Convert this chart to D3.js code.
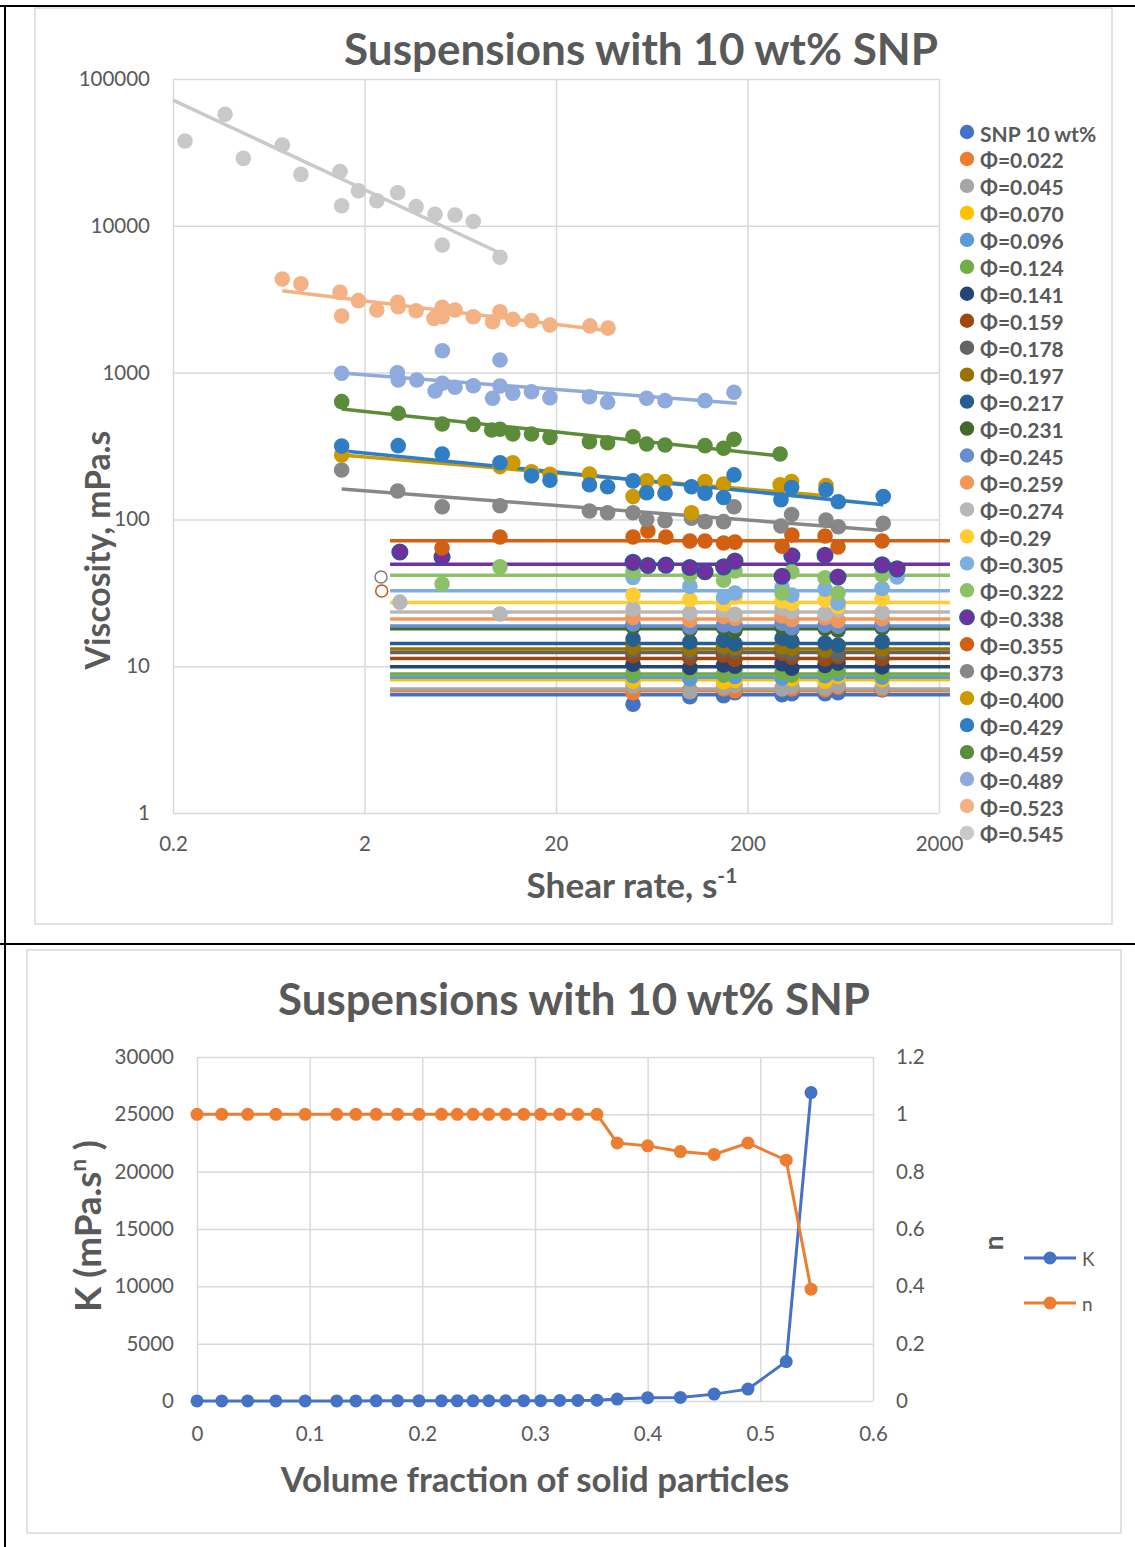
<!DOCTYPE html>
<html><head><meta charset="utf-8">
<script src="https://cdn.jsdelivr.net/npm/d3@7"></script>
<style>
body{margin:0;background:#fff}
svg{display:block}
text{font-family:Lato,"Open Sans",sans-serif;fill:#595959}
</style>
</head><body>
<svg id="c" width="1135" height="1547"></svg>
<script>
// ---------------- DATA ----------------
const seriesLabels = ["SNP 10 wt%","Φ=0.022","Φ=0.045","Φ=0.070","Φ=0.096","Φ=0.124","Φ=0.141","Φ=0.159","Φ=0.178","Φ=0.197","Φ=0.217","Φ=0.231","Φ=0.245","Φ=0.259","Φ=0.274","Φ=0.29","Φ=0.305","Φ=0.322","Φ=0.338","Φ=0.355","Φ=0.373","Φ=0.400","Φ=0.429","Φ=0.459","Φ=0.489","Φ=0.523","Φ=0.545"];
const phi = [0,0.022,0.045,0.070,0.096,0.124,0.141,0.159,0.178,0.197,0.217,0.231,0.245,0.259,0.274,0.29,0.305,0.322,0.338,0.355,0.373,0.400,0.429,0.459,0.489,0.523,0.545];
// Power-law fit parameters (viscosity = K * shear^(n-1))
const K = [6.4,6.8,7.0,8.1,8.4,8.85,9.9,11.3,12.4,13.1,14.3,18.0,18.8,21.0,23.4,27.2,32.7,41.6,49.4,71.6,168,288,310,600,1036,3440,26900];
const nIdx = [1,1,1,1,1,1,1,1,1,1,1,1,1,1,1,1,1,1,1,1,0.90,0.89,0.87,0.86,0.90,0.84,0.39];
// shear range of each fitted line
const fitMin = [2.72,2.72,2.72,2.72,2.72,2.72,2.72,2.72,2.72,2.72,2.72,2.72,2.72,2.72,2.72,2.72,2.72,2.72,2.72,2.72,1.52,1.52,1.52,1.52,1.51,0.744,0.2];
const fitMax = [2282,2282,2282,2282,2282,2282,2282,2282,2282,2282,2282,2282,2282,2282,2282,2282,2282,2282,2282,2282,1023,518,1023,296,176,39.2,10.2];

// measured points: shear rate (1/s) and viscosity (mPa.s)
const shearCols = [50.5,100,150,172,303,341,508,594,1009];
const viscSNP = [5.5,6.2,6.3,6.6,6.4,6.5,6.5,6.6,6.9];
const visc022 = [6.6,6.9,7.0,6.8,7.1,7.0,6.9,7.2,7.0];
const visc045 = [7.3,6.7,7.2,7.4,7.0,7.3,7.1,7.4,7.2];
const visc070 = [7.9,8.3,7.8,8.0,8.4,8.2,7.9,8.5,8.1];
const visc096 = [8.6,8.2,8.7,8.5,8.3,8.8,8.6,8.9,8.4];
const visc124 = [9.0,9.2,8.8,9.3,9.1,8.7,9.0,9.4,8.9];
const visc141 = [10.3,9.8,10.2,10.0,10.4,9.7,10.1,10.5,9.9];
const visc159 = [11.8,11.4,11.9,11.1,12.2,11.5,11.2,11.6,11.3];
const visc178 = [12.7,12.3,12.9,12.6,12.8,12.2,12.5,12.1,12.4];
const visc197 = [13.4,13.0,13.6,13.3,13.5,13.2,12.9,13.8,13.1];
const visc217 = [15.3,14.6,15.0,14.2,15.5,14.8,14.4,13.9,14.7];
const visc231 = [18.6,17.8,18.2,17.5,18.4,17.9,18.1,17.6,18.3];
const visc245 = [19.4,18.5,19.1,18.9,19.6,18.3,19.0,18.7,19.2];
const visc259 = [21.5,20.6,21.8,21.2,22.0,20.8,21.4,20.5,21.1];
const shear274 = [3.06,10.2,50.5,100,150,172,303,341,508,594,1009];
const visc274 = [27.3,22.7,24.5,23.0,24.0,22.6,24.8,23.5,22.8,24.2,23.2];
const visc290 = [30.5,28.5,26.5,29.5,27.8,26.8,28.2,25.5,28.8];
const shear305 = [50.5,100,150,172,303,341,508,594,1009,1209];
const visc305 = [40.2,35.0,29.5,31.5,34.5,30.5,33.5,27.0,33.8,40.5];
const shear322 = [5.08,10.2,50.5,100,150,172,303,341,508,594,1009];
const visc322 = [36.3,47.5,44.0,42.0,38.5,44.5,31.5,44.0,40.0,31.5,42.0];
const shear338 = [3.06,5.08,50.5,60.4,75,100,120,150,172,303,341,508,594,1009,1209];
const visc338 = [60,55.5,51,48.5,48.8,47,44,47.5,52,41,56.5,57,40.5,49,46];
const shear355 = [5.08,10.2,50.5,60.4,75,100,120,150,172,303,341,508,594,1009];
const visc355 = [63.9,75.9,75.9,83.4,75.9,71.3,71.3,69.1,70,65.6,78.3,77.1,64.8,71.3];
const shear373 = [1.52,2.98,5.09,10.2,29.9,37.2,50.5,59.5,74.2,102,120,150,170,299,340,514,596,1023];
const visc373 = [217,156,122,124,114,111,111,100,98,102,96.5,96.5,122,90.2,108,99,89.2,94];
const shear400 = [1.52,10.2,11.9,14.9,18.6,29.9,50.5,59.5,74.2,102,120,150,296,340,514];
const visc400 = [275,229,243,211,203,204,143,183,181,111,181,174,172,181,170];
const shear429 = [1.52,3.0,5.09,10.2,14.9,18.6,29.9,37.2,50.5,59.5,74.2,102,120,150,170,299,340,514,596,1023];
const visc429 = [316,318,279,243,198,185,172,167,183,152,151,167,151,141,201,136,165,159,132,143];
const shear459 = [1.52,3.0,5.09,7.40,9.23,10.2,11.9,14.9,18.6,29.9,37.2,50.5,59.5,74.2,120,150,170,296];
const visc459 = [634,528,447,444,406,411,382,382,362,338,333,366,326,321,318,305,351,279];
const shear489 = [1.52,2.97,3.0,3.75,4.67,5.1,5.1,5.94,7.4,10.2,10.2,9.33,11.9,14.9,18.6,29.9,37.2,59.5,74.2,120,170];
const visc489 = [989,998,891,891,749,846,1410,794,814,1219,810,668,723,741,675,685,628,668,644,644,734];
const shear523 = [0.744,0.931,1.49,1.52,1.86,2.32,2.98,3.0,3.72,4.61,5.09,5.09,5.94,7.40,9.33,10.2,11.9,14.9,18.6,30.1,37.4];
const visc523 = [4340,4030,3520,2430,3090,2670,3010,2810,2640,2340,2790,2400,2670,2400,2220,2600,2310,2260,2110,2080,2010];
const shear545 = [0.231,0.374,0.466,0.745,0.931,1.49,1.52,1.86,2.32,2.98,3.72,4.67,5.94,7.40,5.09,10.2];
const visc545 = [37800,57500,28800,35500,22400,23400,13700,17300,14800,16800,13500,12000,11850,10700,7400,6100];
// stray hollow markers left of the Newtonian lines
const strayShear = [2.44,2.46];
const strayVisc = [40.5,32.5];

const xTicksTop = [0.2,2,20,200,2000];
const yTicksTop = [1,10,100,1000,10000,100000];
const xTicksBot = [0,0.1,0.2,0.3,0.4,0.5,0.6];
const kTicks = [0,5000,10000,15000,20000,25000,30000];
const nTicks = [0,0.2,0.4,0.6,0.8,1,1.2];

// ---------------- STYLE ----------------
const palette = ["#4472C4","#ED7D31","#A5A5A5","#FFC000","#5B9BD5","#70AD47","#264478","#9E480E","#636363","#997300","#255E91","#43682B","#698ED0","#F1975A","#B7B7B7","#FFCD33","#7CAFDD","#8CC168","#7030A0","#D26012","#878787","#CC9A00","#2E7DC5","#5B8C39","#8FAADC","#F4B183","#C9C9C9"];
const GRID = "#d9d9d9", TXT = "#595959";

const seriesShear = [shearCols,shearCols,shearCols,shearCols,shearCols,shearCols,shearCols,shearCols,shearCols,shearCols,shearCols,shearCols,shearCols,shearCols,shear274,shearCols,shear305,shear322,shear338,shear355,shear373,shear400,shear429,shear459,shear489,shear523,shear545];
const seriesVisc = [viscSNP,visc022,visc045,visc070,visc096,visc124,visc141,visc159,visc178,visc197,visc217,visc231,visc245,visc259,visc274,visc290,visc305,visc322,visc338,visc355,visc373,visc400,visc429,visc459,visc489,visc523,visc545];

const svg = d3.select("#c");

// frame lines
svg.append("rect").attr("x",35).attr("y",8).attr("width",1077).attr("height",916).attr("fill","#fff").attr("stroke","#d9d9d9").attr("stroke-width",1.5);
svg.append("rect").attr("x",27).attr("y",950).attr("width",1094).attr("height",583).attr("fill","#fff").attr("stroke","#d9d9d9").attr("stroke-width",1.5);
svg.append("line").attr("x1",0).attr("x2",1135).attr("y1",6).attr("y2",6).attr("stroke","#000").attr("stroke-width",2);
svg.append("line").attr("x1",0).attr("x2",1135).attr("y1",944).attr("y2",944).attr("stroke","#000").attr("stroke-width",2);
svg.append("line").attr("x1",5).attr("x2",5).attr("y1",5).attr("y2",1547).attr("stroke","#000").attr("stroke-width",2);

function fitWidth(sel, w){
  const bw = sel.node().getBBox().width;
  const fs = parseFloat(sel.attr("font-size"));
  sel.attr("font-size", fs*w/bw);
}

// ================= TOP CHART =================
const x = d3.scaleLog().domain([0.2,2000]).range([173,939]);
const y = d3.scaleLog().domain([1,100000]).range([813,79]);

const gt = svg.append("g");
// grid
gt.append("g").attr("transform","translate(0,813)")
  .call(d3.axisBottom(x).tickValues(xTicksTop).tickSize(-734).tickFormat(""))
  .call(g=>{g.select(".domain").remove(); g.selectAll("line").attr("stroke",GRID).attr("stroke-width",1.5);});
gt.append("g").attr("transform","translate(173,0)")
  .call(d3.axisLeft(y).tickValues(yTicksTop).tickSize(-766).tickFormat(""))
  .call(g=>{g.select(".domain").remove(); g.selectAll("line").attr("stroke",GRID).attr("stroke-width",1.5);});
// tick labels
gt.append("g").attr("transform","translate(0,813)")
  .call(d3.axisBottom(x).tickValues(xTicksTop).tickSize(0).tickPadding(23).tickFormat(d=>String(d)))
  .call(g=>{g.select(".domain").remove(); g.selectAll("text").attr("font-size",20.5).attr("fill",TXT).style("font-family","Lato");});
gt.append("g").attr("transform","translate(173,0)")
  .call(d3.axisLeft(y).tickValues(yTicksTop).tickSize(0).tickPadding(23).tickFormat(d3.format("d")))
  .call(g=>{g.select(".domain").remove(); g.selectAll("text").attr("font-size",20.5).attr("fill",TXT).style("font-family","Lato");});

// fitted lines
const lineGen = d3.line().x(d=>x(d[0])).y(d=>y(d[1]));
const fits = phi.map((p,i)=>[fitMin[i],fitMax[i]].map(s=>[s, K[i]*Math.pow(s,nIdx[i]-1)]));
gt.append("g").selectAll("path").data(fits).join("path")
  .attr("d",lineGen).attr("fill","none")
  .attr("stroke",(d,i)=>palette[i]).attr("stroke-width",3.5);

// points
seriesVisc.forEach((vals,i)=>{
  const sh = seriesShear[i];
  gt.append("g").selectAll("circle").data(vals).join("circle")
    .attr("cx",(d,j)=>x(sh[j])).attr("cy",d=>y(d)).attr("r",7.8)
    .attr("fill",palette[i])
    .attr("stroke", i===18 ? "#2F5597" : "none").attr("stroke-width",1.5);
});
// stray hollow markers
gt.append("g").selectAll("circle").data(strayVisc).join("circle")
  .attr("cx",(d,j)=>x(strayShear[j])).attr("cy",d=>y(d)).attr("r",6)
  .attr("fill","none").attr("stroke",(d,j)=>j===0?"#7f7f7f":"#C55A11").attr("stroke-width",1.5);

// titles
const t1 = svg.append("text").attr("x",641).attr("y",48).attr("text-anchor","middle").attr("dominant-baseline","central")
  .attr("font-size",40).attr("font-weight","bold").attr("fill",TXT).text("Suspensions with 10 wt% SNP");
fitWidth(t1,594);
const ty = svg.append("text").attr("transform","translate(97,550) rotate(-90)").attr("text-anchor","middle").attr("dominant-baseline","central")
  .attr("font-size",30).attr("font-weight","bold").attr("fill",TXT).text("Viscosity, mPa.s");
fitWidth(ty,240);
const tx = svg.append("text").attr("x",632).attr("y",884).attr("text-anchor","middle").attr("dominant-baseline","central")
  .attr("font-size",30).attr("font-weight","bold").attr("fill",TXT);
tx.append("tspan").text("Shear rate, s");
tx.append("tspan").attr("dy",-10).attr("font-size","0.6em").text("-1");
fitWidth(tx,211);

// legend
const lg = svg.append("g");
seriesLabels.forEach((lab,i)=>{
  const yy = 132 + i*26.96;
  lg.append("circle").attr("cx",967).attr("cy",yy).attr("r",7.2).attr("fill",palette[i])
    .attr("stroke", i===18 ? "#2F5597" : "none").attr("stroke-width",1.5);
  lg.append("text").attr("x",980).attr("y",yy+1).attr("dominant-baseline","central")
    .attr("font-size",21).attr("font-weight","bold").attr("fill",TXT).text(lab);
});

// ================= BOTTOM CHART =================
const xb = d3.scaleLinear().domain([0,0.6]).range([197,873]);
const yK = d3.scaleLinear().domain([0,30000]).range([1401,1057]);
const yn = d3.scaleLinear().domain([0,1.2]).range([1401,1057]);
const gb = svg.append("g");
gb.append("g").attr("transform","translate(0,1401)")
  .call(d3.axisBottom(xb).tickValues(xTicksBot).tickSize(-344).tickFormat(""))
  .call(g=>{g.select(".domain").remove(); g.selectAll("line").attr("stroke",GRID).attr("stroke-width",1.5);});
gb.append("g").attr("transform","translate(197,0)")
  .call(d3.axisLeft(yK).tickValues(kTicks).tickSize(-676).tickFormat(""))
  .call(g=>{g.select(".domain").remove(); g.selectAll("line").attr("stroke",GRID).attr("stroke-width",1.5);});
gb.append("g").attr("transform","translate(0,1401)")
  .call(d3.axisBottom(xb).tickValues(xTicksBot).tickSize(0).tickPadding(25).tickFormat(d=>String(d)))
  .call(g=>{g.select(".domain").remove(); g.selectAll("text").attr("font-size",20.5).attr("fill",TXT).style("font-family","Lato");});
gb.append("g").attr("transform","translate(197,0)")
  .call(d3.axisLeft(yK).tickValues(kTicks).tickSize(0).tickPadding(23).tickFormat(d3.format("d")))
  .call(g=>{g.select(".domain").remove(); g.selectAll("text").attr("font-size",20.5).attr("fill",TXT).style("font-family","Lato");});
gb.append("g").attr("transform","translate(873,0)")
  .call(d3.axisRight(yn).tickValues(nTicks).tickSize(0).tickPadding(23).tickFormat(d=>String(d)))
  .call(g=>{g.select(".domain").remove(); g.selectAll("text").attr("font-size",20.5).attr("fill",TXT).style("font-family","Lato");});

const kLine = d3.line().x((d,i)=>xb(phi[i])).y(d=>yK(d));
const nLine = d3.line().x((d,i)=>xb(phi[i])).y(d=>yn(d));
gb.append("path").attr("d",kLine(K)).attr("fill","none").attr("stroke","#4472C4").attr("stroke-width",3);
gb.append("g").selectAll("circle").data(K).join("circle")
  .attr("cx",(d,i)=>xb(phi[i])).attr("cy",d=>yK(d)).attr("r",6.5).attr("fill","#4472C4");
gb.append("path").attr("d",nLine(nIdx)).attr("fill","none").attr("stroke","#ED7D31").attr("stroke-width",3);
gb.append("g").selectAll("circle").data(nIdx).join("circle")
  .attr("cx",(d,i)=>xb(phi[i])).attr("cy",d=>yn(d)).attr("r",6.5).attr("fill","#ED7D31");

const t2 = svg.append("text").attr("x",574).attr("y",998).attr("text-anchor","middle").attr("dominant-baseline","central")
  .attr("font-size",40).attr("font-weight","bold").attr("fill",TXT).text("Suspensions with 10 wt% SNP");
fitWidth(t2,592);
const tk = svg.append("text").attr("transform","translate(87,1226) rotate(-90)").attr("text-anchor","middle").attr("dominant-baseline","central")
  .attr("font-size",30).attr("font-weight","bold").attr("fill",TXT);
tk.append("tspan").text("K (mPa.s");
tk.append("tspan").attr("dy",-10).attr("font-size","0.6em").text("n");
tk.append("tspan").attr("dy",10).text(" )");
fitWidth(tk,172);
svg.append("text").attr("transform","translate(993,1243) rotate(-90)").attr("text-anchor","middle").attr("dominant-baseline","central")
  .attr("font-size",26).attr("font-weight","bold").attr("fill",TXT).text("n");
const tv = svg.append("text").attr("x",535).attr("y",1478).attr("text-anchor","middle").attr("dominant-baseline","central")
  .attr("font-size",30).attr("font-weight","bold").attr("fill",TXT).text("Volume fraction of solid particles");
fitWidth(tv,510);

// bottom legend
const legB = [{lab:"K",col:"#4472C4",y:1258},{lab:"n",col:"#ED7D31",y:1303}];
legB.forEach(d=>{
  svg.append("line").attr("x1",1024).attr("x2",1076).attr("y1",d.y).attr("y2",d.y).attr("stroke",d.col).attr("stroke-width",3);
  svg.append("circle").attr("cx",1050).attr("cy",d.y).attr("r",6.5).attr("fill",d.col);
  svg.append("text").attr("x",1082).attr("y",d.y).attr("dominant-baseline","central").attr("font-size",19).attr("fill",TXT).text(d.lab);
});
</script>
</body></html>
